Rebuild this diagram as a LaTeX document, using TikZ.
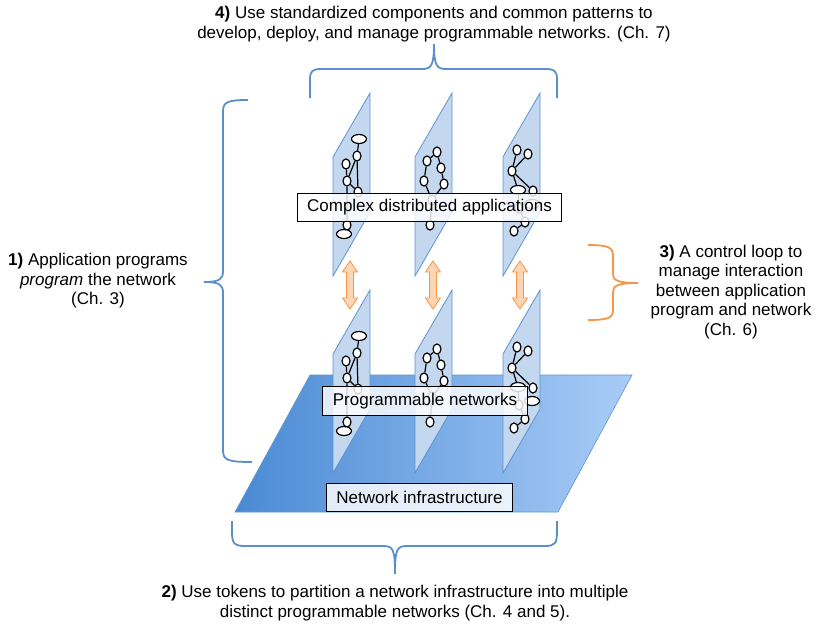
\documentclass[tikz,border=0pt]{standalone}
\usepackage{fontspec}
\setmainfont{Liberation Sans}
\usetikzlibrary{shapes.geometric}
\definecolor{bracecol}{HTML}{5A8FCB}
\definecolor{orangecol}{HTML}{F79646}
\definecolor{arrowfill}{HTML}{FCD5B4}
\definecolor{planefill}{HTML}{C3D7EE}
\definecolor{planeedge}{HTML}{5B93D2}
\definecolor{baseleft}{HTML}{4A8AD4}
\definecolor{baseright}{HTML}{A9CCF7}
\definecolor{baseedge}{HTML}{5B95D3}
\tikzset{
  planestyle/.style={fill=planefill, draw=planeedge, line width=0.8pt},
  gn/.style={ellipse, draw=black, fill=white, line width=1.2pt, minimum width=8pt, minimum height=10pt, inner sep=0pt},
  gbig/.style={ellipse, draw=black, fill=white, line width=1.2pt, minimum width=15pt, minimum height=9pt, inner sep=0pt},
  gedge/.style={draw=black, line width=1.2pt},
  bracestyle/.style={draw=bracecol, line width=1.8pt},
  obrace/.style={draw=orangecol, line width=1.8pt},
  arrowstyle/.style={fill=arrowfill, draw=orangecol, line width=0.8pt, line join=miter},
  lbl/.style={draw=black, line width=0.8pt, fill=white, fill opacity=0.82, text opacity=1, inner xsep=10pt, inner ysep=0pt, minimum height=28.5pt},
  txt/.style={align=center, font=\fontsize{17}{19.5}\selectfont, inner sep=0pt}
}
\newcommand{\plnpath}[3]{%
  \path[planestyle] (#2,#3) coordinate (#1-tl) -- ++(37,-64) coordinate (#1-tr) -- ++(0,119) coordinate (#1-br) -- ++(-37,64) coordinate (#1-bl) -- cycle;}
\newcommand{\grA}{%
  \node[gbig] (a1) at (359,139) {};
  \node[gn] (a2) at (357,156) {};
  \node[gn] (a3) at (346,164) {};
  \node[gn] (a4) at (347,181) {};
  \node[gn] (a5) at (358,192) {};
  \node[gn] (a6) at (347,225) {};
  \node[gbig] (a7) at (344,234) {};
  \draw[gedge] (a1) -- (a2) (a2) -- (a4) (a2) -- (a5) (a3) -- (a4) (a4) -- (a5) (a4) -- (a6) (a6) -- (a7);
}
\newcommand{\grB}{%
  \node[gn] (b1) at (437,152) {};
  \node[gn] (b2) at (427,161) {};
  \node[gn] (b3) at (441,168) {};
  \node[gn] (b4) at (424,181) {};
  \node[gn] (b5) at (444,184) {};
  \node[gn] (b6) at (432,200) {};
  \node[gn] (b7) at (430,225) {};
  \draw[gedge] (b1) -- (b2) (b1) -- (b3) (b2) -- (b4) (b3) -- (b5) (b4) -- (b6) (b5) -- (b6) (b6) -- (b7);
}
\newcommand{\grC}{%
  \node[gn] (c1) at (517,150) {};
  \node[gn] (c2) at (528,154) {};
  \node[gn] (c3) at (512,171) {};
  \node[gbig] (c4) at (518,190) {};
  \node[gn] (c5) at (533,191) {};
  \node[gbig] (c6) at (532,204) {};
  \node[gn] (c7) at (519,208) {};
  \node[gn] (c8) at (525,222) {};
  \node[gn] (c9) at (514,231) {};
  \draw[gedge] (c1) -- (c3) (c2) -- (c3) (c3) -- (c4) (c3) -- (c5) (c4) -- (c7) (c7) -- (c8) (c8) -- (c9);
}
\newcommand{\dblarrow}[1]{%
  \path[arrowstyle] (#1,261) -- (#1+7.5,272) -- (#1+3.5,272) -- (#1+3.5,298) -- (#1+7.5,298) -- (#1,309) -- (#1-7.5,298) -- (#1-3.5,298) -- (#1-3.5,272) -- (#1-7.5,272) -- cycle;}
\begin{document}
\begin{tikzpicture}[x=1pt,y=-1pt]
\useasboundingbox (0,0) rectangle (815,625);
% base plane
\shade[left color=baseleft, right color=baseright, draw=baseedge, line width=0.6pt]
  (310,375) coordinate (base-tl) -- (632,375) coordinate (base-tr) -- (558,512) coordinate (base-br) -- (235,512) coordinate (base-bl) -- cycle;
% bottom row planes
\begin{scope}[shift={(0,197)}, name prefix=lo-]
  \plnpath{p1}{333}{157}
  \plnpath{p2}{415}{157}
  \plnpath{p3}{503}{157}
  \grA \grB \grC
\end{scope}
% top row planes
\begin{scope}[name prefix=up-]
  \plnpath{p1}{333}{157}
  \plnpath{p2}{415}{157}
  \plnpath{p3}{503}{157}
  \grA \grB \grC
\end{scope}
% arrows
\dblarrow{350}
\dblarrow{433}
\dblarrow{520}
% labels on planes
\node[lbl, txt, inner xsep=10pt] (apps) at (429.5,207.5) {Complex distributed applications};
\node[lbl, txt, inner xsep=10pt] (pnets) at (425,401) {Programmable networks};
\node[lbl, txt, inner xsep=10pt] (infra) at (419.5,497.5) {Network infrastructure};
% braces
\draw[bracestyle] (248,100) .. controls (227,100) and (223,102) .. (223,112) -- (223,271) .. controls (223,279) and (220,282) .. (204,282) coordinate (b1tip) .. controls (220,282) and (223,285) .. (223,293) -- (223,450) .. controls (223,460) and (227,462) .. (252,462);
\draw[bracestyle] (310,98) -- (310,80) .. controls (310,71) and (312,69) .. (322,69) -- (422,69) .. controls (431,69) and (434,66) .. (434,44) coordinate (b4tip) .. controls (434,66) and (437,69) .. (446,69) -- (545,69) .. controls (555,69) and (557,71) .. (557,80) -- (557,98);
\draw[bracestyle] (232,521) -- (232,532) .. controls (232,543) and (234,546) .. (245,546) -- (383,546) .. controls (393,546) and (395,549) .. (395,574) coordinate (b2tip) .. controls (395,549) and (397,546) .. (407,546) -- (545,546) .. controls (555,546) and (557,543) .. (557,532) -- (557,521);
\draw[obrace] (588,245) .. controls (608,245) and (613,247) .. (613,256) -- (613,274) .. controls (613,280) and (617,283) .. (638,283) coordinate (b3tip) .. controls (617,283) and (613,286) .. (613,292) -- (613,310) .. controls (613,318) and (608,320) .. (588,320);
% texts
\node[txt] (t4) at (434,24) {\textbf{4)} Use standardized components and common patterns to\\develop, deploy, and manage programmable networks. (Ch. 7)};
\node[txt] (t1) at (98,281) {\textbf{1)} Application programs\\\textit{program} the network\\(Ch. 3)};
\node[txt] (t3) at (731,292) {\textbf{3)} A control loop to\\manage interaction\\between application\\program and network\\(Ch. 6)};
\node[txt] (t2) at (395,603) {\textbf{2)} Use tokens to partition a network infrastructure into multiple\\distinct programmable networks (Ch. 4 and 5).};
\end{tikzpicture}
\end{document}
